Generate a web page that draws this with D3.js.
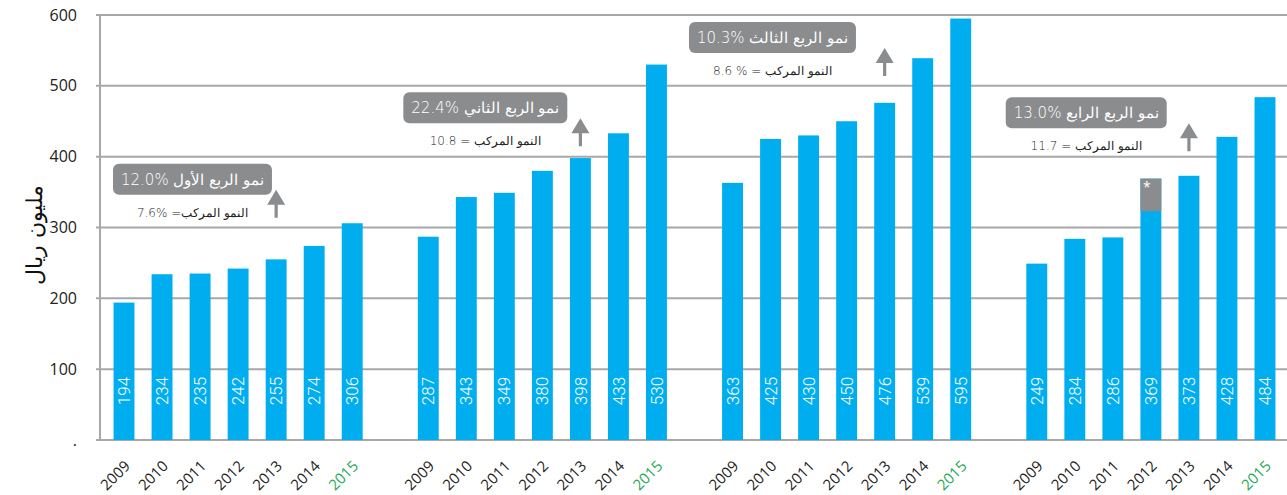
<!DOCTYPE html>
<html>
<head>
<meta charset="utf-8">
<script src="https://cdn.jsdelivr.net/npm/d3@7"></script>
<style>
  body { margin: 0; background: #fff; }
  svg { display: block; font-family: "Open Sans", "DejaVu Sans", sans-serif; }
</style>
</head>
<body>
<div id="chart"></div>
<script>
// chart data
const years = ["2009", "2010", "2011", "2012", "2013", "2014", "2015"];
const quarters = ["Q1", "Q2", "Q3", "Q4"];
const q1Values = [194, 234, 235, 242, 255, 274, 306];
const q2Values = [287, 343, 349, 380, 398, 433, 530];
const q3Values = [363, 425, 430, 450, 476, 539, 595];
const q4Values = [249, 284, 286, 369, 373, 428, 484];
// Q4 2012 bar is split: blue part up to this value, grey (*) on top
const starredQuarter = "Q4";
const starredYear = "2012";
const starredBase = 323;

const yTicks = [0, 100, 200, 300, 400, 500, 600];
const yTickLabels = [".", "100", "200", "300", "400", "500", "600"];
const yTitle = "مليون ريال";

const growthTitles = [
  "12.0% نمو الربع الأول",
  "22.4% نمو الربع الثاني",
  "10.3% نمو الربع الثالث",
  "13.0% نمو الربع الرابع"
];
const cagrTexts = [
  "7.6% =النمو المركب",
  "10.8 = النمو المركب",
  "8.6 % = النمو المركب",
  "11.7 = النمو المركب"
];
// annotation placement: box top (in axis units) and box centre (in bar steps from 2009)
const annotationLevels = [390, 491, 590, 484];
const annotationOffsets = [1.8, 1.5, 1.05, 1.3];
const arrowYear = "2013";

const allValues = [q1Values, q2Values, q3Values, q4Values];

const width = 1287, height = 495;
const blue = "#00aeef", grey = "#8b8c8e", gridGrey = "#a8a8a8", green = "#1fa855";

const svg = d3.select("#chart").append("svg")
  .attr("width", width)
  .attr("height", height);

// slots: 7 bars per quarter + an empty slot between quarters
const slots = [];
quarters.forEach((q, i) => {
  years.forEach(yr => slots.push(q + "-" + yr));
  if (i < quarters.length - 1) slots.push("gap" + i);
});

const x = d3.scaleBand()
  .domain(slots)
  .range([105, 1284])
  .paddingInner(0.45)
  .paddingOuter(0.225);

const y = d3.scaleLinear()
  .domain([0, 600])
  .range([440, 15]);

const data = [];
quarters.forEach((q, i) => {
  years.forEach((yr, j) => data.push({ q: q, year: yr, key: q + "-" + yr, value: allValues[i][j] }));
});

// gridlines
svg.append("g")
  .selectAll("line")
  .data(yTicks)
  .join("line")
  .attr("x1", 96).attr("x2", width)
  .attr("y1", d => y(d)).attr("y2", d => y(d))
  .attr("stroke", gridGrey)
  .attr("stroke-width", 2);

// y axis line
svg.append("line")
  .attr("x1", 100).attr("x2", 100)
  .attr("y1", y(600)).attr("y2", y(0))
  .attr("stroke", gridGrey)
  .attr("stroke-width", 2);

// y tick labels
svg.append("g")
  .selectAll("text")
  .data(yTicks)
  .join("text")
  .attr("x", 77)
  .attr("y", d => y(d))
  .attr("dy", "0.35em")
  .attr("text-anchor", "end")
  .attr("font-size", 16)
  .attr("fill", "#222")
  .text((d, i) => yTickLabels[i]);

// y title
svg.append("text")
  .attr("transform", `translate(34,${y(290)}) rotate(-90)`)
  .attr("text-anchor", "middle")
  .attr("dy", "0.35em")
  .attr("font-family", "DejaVu Sans, sans-serif")
  .attr("font-weight", 200)
  .attr("font-size", 22)
  .attr("fill", "#111")
  .text(yTitle);

// bars
svg.append("g")
  .selectAll("rect")
  .data(data)
  .join("rect")
  .attr("x", d => x(d.key))
  .attr("width", x.bandwidth())
  .attr("y", d => y(d.value))
  .attr("height", d => y(0) - y(d.value))
  .attr("fill", blue);

// starred bar: grey upper part
const starred = data.find(d => d.q === starredQuarter && d.year === starredYear);
svg.append("rect")
  .attr("x", x(starred.key))
  .attr("width", x.bandwidth())
  .attr("y", y(starred.value))
  .attr("height", y(starredBase) - y(starred.value))
  .attr("fill", grey);
svg.append("text")
  .attr("x", x(starred.key) + x.bandwidth() / 2 - 4)
  .attr("y", y(starred.value) + 13)
  .attr("text-anchor", "middle")
  .attr("font-size", 14)
  .attr("fill", "#fff")
  .text("*");

// value labels inside bars
svg.append("g")
  .selectAll("text")
  .data(data)
  .join("text")
  .attr("transform", d => `translate(${x(d.key) + x.bandwidth() / 2},${y(0) - 49}) rotate(-90)`)
  .attr("text-anchor", "middle")
  .attr("dy", "0.36em")
  .attr("font-family", "Roboto, sans-serif")
  .attr("font-weight", 300)
  .attr("font-size", 17)
  .attr("fill", "#fff")
  .text(d => d.value);

// x tick labels, slanted
svg.append("g")
  .selectAll("text")
  .data(data)
  .join("text")
  .attr("x", d => x(d.key) + x.bandwidth() / 2 + 7)
  .attr("y", y(0) + 27)
  .attr("transform", d => `rotate(-45 ${x(d.key) + x.bandwidth() / 2 + 7} ${y(0) + 27})`)
  .attr("text-anchor", "end")
  .attr("font-size", 15)
  .attr("fill", d => d.year === "2015" ? green : "#222")
  .text(d => d.year);

// growth annotations
quarters.forEach((q, i) => {
  const g = svg.append("g");
  const top = y(annotationLevels[i]);
  const cx = x(q + "-" + years[0]) + x.bandwidth() / 2 + annotationOffsets[i] * x.step();
  const ax = x(q + "-" + arrowYear) + x.bandwidth() / 2;

  const rect = g.append("rect").attr("fill", grey).attr("rx", 6);
  const t = g.append("text")
    .attr("x", cx)
    .attr("y", top + 16)
    .attr("dy", "0.35em")
    .attr("text-anchor", "middle")
    .attr("font-family", "DejaVu Sans, sans-serif")
    .attr("font-weight", 200)
    .attr("font-size", 15)
    .attr("fill", "#fff")
    .text(growthTitles[i]);
  const w = t.node().getComputedTextLength() + 16;
  rect.attr("x", cx - w / 2).attr("y", top).attr("width", w).attr("height", 31);

  g.append("text")
    .attr("x", cx)
    .attr("y", top + 49)
    .attr("dy", "0.35em")
    .attr("text-anchor", "middle")
    .attr("font-family", "DejaVu Sans, sans-serif")
    .attr("font-weight", 200)
    .attr("font-size", 12)
    .attr("fill", "#222")
    .text(cagrTexts[i]);

  // up arrow next to the 2013 bar
  const tip = top + 26, bottom = top + 54;
  g.append("path")
    .attr("d", `M${ax},${tip} L${ax + 9},${tip + 15} L${ax + 1.6},${tip + 15} L${ax + 1.6},${bottom} L${ax - 1.6},${bottom} L${ax - 1.6},${tip + 15} L${ax - 9},${tip + 15} Z`)
    .attr("fill", grey);
});
</script>
</body>
</html>
